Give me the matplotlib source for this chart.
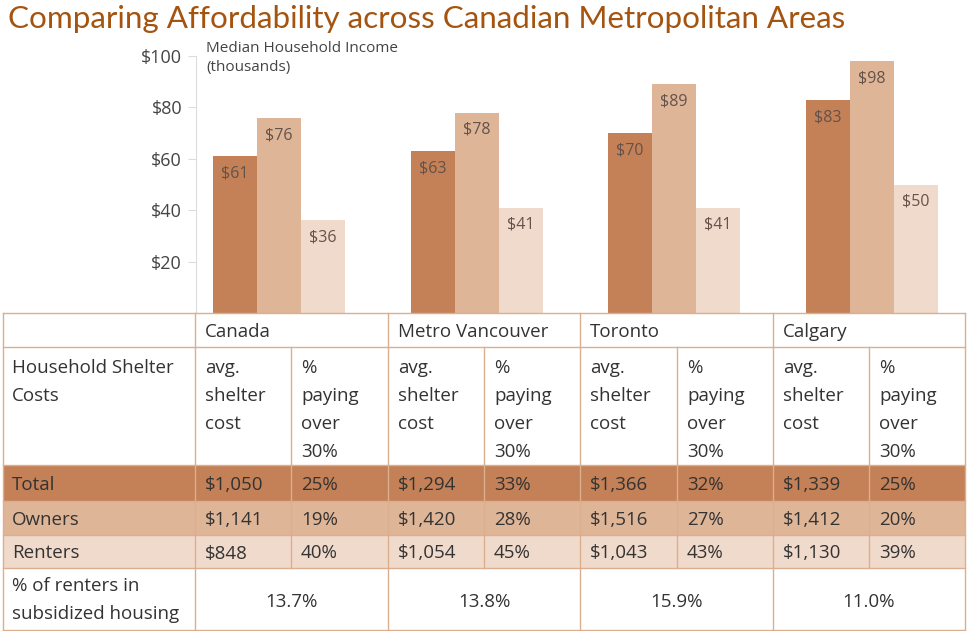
import matplotlib
matplotlib.use("Agg")
import matplotlib.pyplot as plt
from matplotlib.patches import Rectangle

# ---- data ----
cities = ["Canada", "Metro Vancouver", "Toronto", "Calgary"]
income_total = [61, 63, 70, 83]
income_owners = [76, 78, 89, 98]
income_renters = [36, 41, 41, 50]
yticks = [20, 40, 60, 80, 100]

row_labels = ["Total", "Owners", "Renters"]
avg_cost = [[1050, 1141, 848],
            [1294, 1420, 1054],
            [1366, 1516, 1043],
            [1339, 1412, 1130]]
pct_over30 = [[25, 19, 40],
              [33, 28, 45],
              [32, 27, 43],
              [25, 20, 39]]
subsidized = [13.7, 13.8, 15.9, 11.0]

# ---- style ----
W, H = 969, 631
c_dark = "#c48056"
c_mid = "#dfb598"
c_light = "#f0dacb"
c_line = "#dcae90"
c_text = "#333333"
c_title = "#a4540f"
body_font = "Open Sans"

fig = plt.figure(figsize=(W / 100, H / 100), dpi=100)

# ---- bar chart ----
ax_left, ax_right, ax_bot, ax_top = 196, 965, 313, 40
ax = fig.add_axes([ax_left / W, 1 - ax_bot / H,
                   (ax_right - ax_left) / W, (ax_bot - ax_top) / H])
px_per_unit = 2.57
ax.set_ylim(0, (ax_bot - ax_top) / px_per_unit)
grp = 197.5
ax.set_xlim(-(279 - ax_left) / grp, (ax_right - 279) / grp)

bw = 44 / grp
series = [income_total, income_owners, income_renters]
colors = [c_dark, c_mid, c_light]
for k, (vals, col) in enumerate(zip(series, colors)):
    xs = [i + (k - 1) * bw for i in range(len(cities))]
    bars = ax.bar(xs, vals, width=bw, color=col, edgecolor="none")
    for b, v in zip(bars, vals):
        ax.annotate(f"${v}", (b.get_x() + b.get_width() / 2, v),
                    xytext=(0, -12.5), textcoords="offset points",
                    ha="center", va="center", fontsize=11.5,
                    color="#65524a", family=body_font)

for s in ["top", "right", "bottom"]:
    ax.spines[s].set_visible(False)
ax.spines["left"].set_color("#dcdcdc")
ax.spines["left"].set_bounds(0, 100)
ax.set_yticks(yticks)
ax.set_yticklabels([f"${t}" for t in yticks], family=body_font,
                   fontsize=13, color="#444444")
ax.tick_params(axis="y", length=6, color="#dcdcdc", pad=4)
ax.set_xticks([])

# ---- overlay for title + table (pixel coordinates) ----
tb = fig.add_axes([0, 0, 1, 1])
tb.set_xlim(0, W)
tb.set_ylim(H, 0)
tb.axis("off")
tb.patch.set_alpha(0)

tb.text(8, 19, "Comparing Affordability across Canadian Metropolitan Areas",
        fontsize=22.6, color=c_title, family="Lato", va="center", ha="left")
tb.text(206, 49, "Median Household Income", fontsize=11,
        color="#444444", family=body_font, va="center")
tb.text(206, 68, "(thousands)", fontsize=11,
        color="#444444", family=body_font, va="center")

xe = [3, 195, 291, 388, 484, 580, 677, 773, 869, 965]
ye = [313, 347, 465, 501, 535, 568, 630]
fills = [c_dark, c_mid, c_light]

for r in range(3):
    tb.add_patch(Rectangle((xe[0], ye[2 + r]), xe[-1] - xe[0],
                           ye[3 + r] - ye[2 + r], facecolor=fills[r],
                           edgecolor="none"))

lw = 1.0
for y in ye:
    tb.plot([xe[0], xe[-1]], [y, y], color=c_line, lw=lw)
for x in [xe[0], xe[1], xe[3], xe[5], xe[7], xe[9]]:
    tb.plot([x, x], [ye[0], ye[-1]], color=c_line, lw=lw)
for x in [xe[2], xe[4], xe[6], xe[8]]:
    tb.plot([x, x], [ye[1], ye[5]], color=c_line, lw=lw)

fs = 13.5
pad = 10
dy = 2
tkw = dict(fontsize=fs, color=c_text, family=body_font, va="center", ha="left")

for i, name in enumerate(cities):
    tb.text(xe[1 + 2 * i] + pad, 330 + dy, name, **tkw)
    for j, line in enumerate(["avg.", "shelter", "cost"]):
        tb.text(xe[1 + 2 * i] + pad, 366 + 28 * j + dy, line, **tkw)
    for j, line in enumerate(["%", "paying", "over", "30%"]):
        tb.text(xe[2 + 2 * i] + pad, 366 + 28 * j + dy, line, **tkw)
    for r in range(3):
        yc = (ye[2 + r] + ye[3 + r]) / 2 + dy
        tb.text(xe[1 + 2 * i] + pad, yc, f"${avg_cost[i][r]:,}", **tkw)
        tb.text(xe[2 + 2 * i] + pad, yc, f"{pct_over30[i][r]}%", **tkw)
    tb.text((xe[1 + 2 * i] + xe[3 + 2 * i]) / 2, 600 + dy, f"{subsidized[i]:.1f}%",
            fontsize=fs, color=c_text, family=body_font, va="center", ha="center")

for j, line in enumerate(["Household Shelter", "Costs"]):
    tb.text(xe[0] + 9, 366 + 28 * j + dy, line, **tkw)
for r, lab in enumerate(row_labels):
    tb.text(xe[0] + 9, (ye[2 + r] + ye[3 + r]) / 2 + dy, lab, **tkw)
for j, line in enumerate(["% of renters in", "subsidized housing"]):
    tb.text(xe[0] + 9, 584 + 28 * j + dy, line, **tkw)

fig.savefig("out.png", dpi=100)
